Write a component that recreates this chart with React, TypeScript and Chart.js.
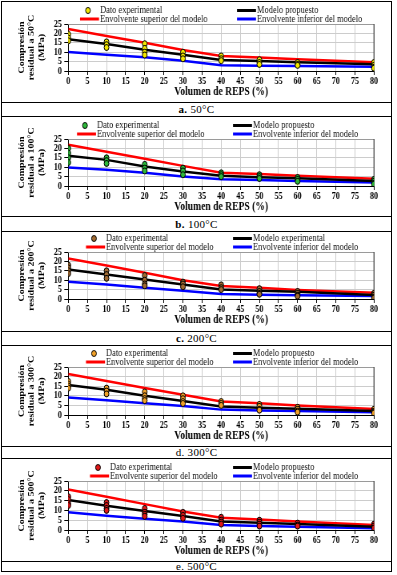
import React, { useEffect, useRef } from 'react';
import { Chart, registerables } from 'chart.js';

Chart.register(...registerables);

// ---------- data ----------
const X_STEPS = [0, 10, 20, 30, 40, 50, 60, 80];
const X_TICK_STEP = 5;
const Y_TICK_STEP = 5;

const EXP_50 = [[19.5, 17.5, 16], [15.5, 14, 12.5], [14.5, 12, 10, 8.5], [10, 8, 6.5], [8, 6.5, 5.5], [6, 4.5, 3.5], [4.5, 3.5, 3], [4.5, 3, 2, 1.5]];
const SUP_50 = [22.3, 18.6, 15, 11.2, 8, 7.2, 6.2, 4.6];
const MOD_50 = [16.9, 14.4, 11.3, 8.7, 5.9, 5.3, 4.6, 3.6];
const INF_50 = [10.1, 8.7, 7.3, 5.5, 3.0, 2.8, 2.7, 2.3];

const EXP_100 = [[20, 17.5, 15, 12.5], [15, 13.5, 12], [11.5, 9.5, 8], [9.5, 8, 6], [7, 6, 5], [6, 5, 4], [4.5, 3.5, 2.5], [3.5, 2.5, 1.5, 1]];
const SUP_100 = [22, 18.2, 14.5, 10.7, 7.1, 6.4, 5.5, 3.8];
const MOD_100 = [16.1, 13.9, 10.4, 7.7, 5.4, 4.6, 4.1, 2.7];
const INF_100 = [9.8, 8.6, 7.1, 5, 3.6, 3.2, 2.7, 1.8];

const EXP_200 = [[18, 16.5, 15, 13.5], [15, 13, 11], [12.5, 10, 8, 7], [9, 8, 6.5], [7.5, 6, 5], [5.5, 4, 3, 2.5], [4, 3, 2, 1.5], [3, 2, 1, 0.5]];
const SUP_200 = [21.5, 17.8, 14, 10, 6.9, 6, 4.8, 3.3];
const MOD_200 = [15.7, 13, 10.4, 7.7, 5.1, 4.4, 3.9, 2.1];
const INF_200 = [9.2, 7.7, 6, 4.4, 2.6, 2.3, 2.0, 1.6];

const EXP_300 = [[17.5, 16, 15, 14], [14, 12.5, 11], [12, 10, 8.5, 7.5], [10, 8.5, 7, 6], [7, 6, 5], [5.5, 4.5, 3, 2.5], [4, 3, 2, 1.5], [3, 2, 1.5, 1]];
const SUP_300 = [21.3, 17.7, 14.1, 10.5, 7, 6.1, 5, 3.1];
const MOD_300 = [15.6, 13.1, 10, 7.3, 4.4, 3.8, 3.3, 2.1];
const INF_300 = [9.1, 7.7, 6.1, 4.7, 2.8, 2.4, 2.1, 1.4];

const EXP_500 = [[17, 15.5, 13.5, 12.5], [14, 12.5, 11, 10], [11, 9, 8, 7], [9, 7.5, 6], [6.5, 5, 4, 3], [5, 4, 3, 2], [3.5, 2.5, 2], [3, 2, 1]];
const SUP_500 = [20.7, 17, 13.2, 9.4, 6.3, 5.3, 4.3, 2.6];
const MOD_500 = [15.3, 12.4, 9.7, 7.1, 4.3, 3.7, 3.1, 1.7];
const INF_500 = [9, 7.3, 5.8, 4.3, 2.6, 2.1, 1.7, 0.9];

const TEMPS = ['50°C', '100°C', '200°C', '300°C', '500°C'];
const LETTERS = ['a.', 'b.', 'c.', 'd.', 'e.'];
const MODEL_LABELS = ['Modelo propuesto', 'Modelo propuesto', 'Modelo experimental', 'Modelo propuesto', 'Modelo propuesto'];
const EXP_LABEL = 'Dato experimental';
const SUP_LABEL = 'Envolvente superior del modelo';
const INF_LABEL = 'Envolvente inferior del modelo';
const X_TITLE = 'Volumen de REPS (%)';

// ---------- layout / style ----------
const CW = 496;
const CH = 100;
const S = 397 / CW;
const SERIF = '"Liberation Serif", "Times New Roman", serif';
const PLOT_TOP = 22;
const X_AXIS_H = 27;
const PLOT_LEFT_SCREEN = 68.3;
const PLOT_RIGHT_SCREEN = 374;

type Panel = {
  exp: number[][]; sup: number[]; mod: number[]; inf: number[];
  color: string; canvasTop: number; plotH: number; legX1: number; legX2: number;
  letterBold: boolean;
};

const PANELS: Panel[] = [
  { exp: EXP_50, sup: SUP_50, mod: MOD_50, inf: INF_50, color: '#f2e600', canvasTop: 2, plotH: 47, legX1: 100, legX2: 257, letterBold: true },
  { exp: EXP_100, sup: SUP_100, mod: MOD_100, inf: INF_100, color: '#2db83a', canvasTop: 117, plotH: 47, legX1: 97, legX2: 253, letterBold: true },
  { exp: EXP_200, sup: SUP_200, mod: MOD_200, inf: INF_200, color: '#a06a32', canvasTop: 230, plotH: 47, legX1: 106, legX2: 253, letterBold: true },
  { exp: EXP_300, sup: SUP_300, mod: MOD_300, inf: INF_300, color: '#f0a028', canvasTop: 345, plotH: 48, legX1: 106, legX2: 253, letterBold: false },
  { exp: EXP_500, sup: SUP_500, mod: MOD_500, inf: INF_500, color: '#e01818', canvasTop: 459, plotH: 49, legX1: 110, legX2: 253, letterBold: false },
];

const H_LINES = [102, 116, 216, 231, 331, 345, 446, 458, 561];
const CAPTION_ROWS = [[102, 116], [216, 231], [331, 345], [446, 458], [561, 571]];

function ChartPanel({ p, idx }: { p: Panel; idx: number }) {
  const ref = useRef<HTMLCanvasElement | null>(null);
  useEffect(() => {
    if (!ref.current) return;
    const expPts: { x: number; y: number }[] = [];
    p.exp.forEach((ys, i) => ys.forEach((y) => expPts.push({ x: X_STEPS[i], y })));
    const line = (ys: number[]) => ys.map((y, i) => ({ x: X_STEPS[i], y }));
    const tickFont = { family: SERIF, size: 10, weight: 'bold' as const, lineHeight: 1 };

    const overlay = {
      id: 'overlay',
      beforeDatasetsDraw(chart: any) {
        const { ctx, chartArea } = chart;
        ctx.save();
        ctx.lineWidth = 1;
        ctx.strokeStyle = '#9a9a9a';
        ctx.beginPath();
        ctx.moveTo(chartArea.left, chartArea.top + 0.5);
        ctx.lineTo(chartArea.right, chartArea.top + 0.5);
        ctx.stroke();
        ctx.strokeStyle = '#444';
        ctx.lineWidth = 1.25;
        ctx.beginPath();
        ctx.moveTo(chartArea.right, chartArea.top);
        ctx.lineTo(chartArea.right, chartArea.bottom);
        ctx.stroke();
        ctx.restore();
      },
      afterDraw(chart: any) {
        const { ctx, chartArea } = chart;
        const r1 = chartArea.top - 13.5;
        const r2 = chartArea.top - 5;
        const t1 = p.legX1 / S;
        const t2 = p.legX2 / S;
        ctx.save();
        ctx.font = `10.5px ${SERIF}`;
        ctx.textBaseline = 'middle';
        ctx.textAlign = 'left';
        // marker
        ctx.beginPath();
        ctx.arc(t1 - 12 / S, r1, 3, 0, Math.PI * 2);
        ctx.fillStyle = p.color;
        ctx.fill();
        ctx.strokeStyle = '#000';
        ctx.lineWidth = 1;
        ctx.stroke();
        const seg = (x: number, y: number, c: string) => {
          ctx.beginPath();
          ctx.strokeStyle = c;
          ctx.lineWidth = 3;
          ctx.moveTo(x - 20 / S, y);
          ctx.lineTo(x - 1 / S, y);
          ctx.stroke();
        };
        seg(t2, r1, '#000');
        seg(t1, r2, '#ff0000');
        seg(t2, r2, '#0000ff');
        ctx.fillStyle = '#111';
        ctx.fillText(EXP_LABEL, t1, r1);
        ctx.fillText(MODEL_LABELS[idx], t2, r1);
        ctx.fillText(SUP_LABEL, t1, r2);
        ctx.fillText(INF_LABEL, t2, r2);
        ctx.restore();
      },
    };

    const chart = new Chart(ref.current, {
      type: 'scatter',
      data: {
        datasets: [
          { label: EXP_LABEL, data: expPts, backgroundColor: p.color, borderColor: '#000', borderWidth: 1, pointRadius: 3, showLine: false },
          { label: MODEL_LABELS[idx], data: line(p.mod), borderColor: '#000', backgroundColor: '#000', borderWidth: 2.5, pointRadius: 0, showLine: true },
          { label: SUP_LABEL, data: line(p.sup), borderColor: '#ff0000', backgroundColor: '#ff0000', borderWidth: 2.5, pointRadius: 0, showLine: true },
          { label: INF_LABEL, data: line(p.inf), borderColor: '#0000ff', backgroundColor: '#0000ff', borderWidth: 2.5, pointRadius: 0, showLine: true },
        ],
      },
      options: {
        animation: false,
        responsive: false,
        devicePixelRatio: 1,
        layout: {
          padding: {
            top: PLOT_TOP,
            left: 0,
            right: CW - PLOT_RIGHT_SCREEN / S,
            bottom: CH - PLOT_TOP - p.plotH - X_AXIS_H,
          },
        },
        plugins: { legend: { display: false }, tooltip: { enabled: false } },
        scales: {
          x: {
            type: 'linear',
            min: 0,
            max: 80,
            ticks: { stepSize: X_TICK_STEP, font: tickFont, color: '#000', padding: 1, maxRotation: 0, autoSkip: false },
            grid: { color: '#cccccc', tickColor: '#000', tickLength: 4, lineWidth: 1 },
            border: { color: '#000', width: 1 },
            title: { display: true, text: X_TITLE, color: '#000', padding: 0, font: { family: SERIF, size: 12, weight: 'bold', lineHeight: 1 } },
            afterFit: (s: any) => { s.height = X_AXIS_H; s.paddingLeft = 0; s.paddingRight = 0; },
          },
          y: {
            type: 'linear',
            min: 0,
            max: 25,
            ticks: { stepSize: Y_TICK_STEP, font: tickFont, color: '#000', padding: 3, autoSkip: false },
            grid: { color: '#cccccc', tickColor: '#000', tickLength: 5, lineWidth: 1 },
            border: { color: '#000', width: 1 },
            title: {
              display: true,
              text: ['Compresión', `residual a ${TEMPS[idx]}`, '(MPa)'],
              color: '#000',
              padding: { top: 21, bottom: 0 },
              font: { family: SERIF, size: 10, weight: 'bold', lineHeight: '12.5px' as any },
            },
            afterFit: (s: any) => { s.width = PLOT_LEFT_SCREEN / S; s.paddingTop = 0; s.paddingBottom = 0; },
          },
        },
      } as any,
      plugins: [overlay],
    });
    return () => chart.destroy();
  }, [p, idx]);

  return (
    <div
      style={{
        position: 'absolute',
        left: 0,
        top: p.canvasTop,
        width: CW,
        height: CH,
        transform: `scaleX(${S})`,
        transformOrigin: '0 0',
      }}
    >
      <canvas ref={ref} width={CW} height={CH} style={{ display: 'block', width: CW, height: CH }} />
    </div>
  );
}

export default function App() {
  return (
    <div style={{ position: 'relative', width: 397, height: 575, background: '#fff', fontFamily: SERIF, overflow: 'hidden' }}>
      <style>{'body{margin:0;background:#fff}'}</style>
      <div style={{ position: 'absolute', left: 1, top: 1, width: 391, height: 571, border: '1px solid #000', boxSizing: 'border-box' }} />
      {H_LINES.map((y) => (
        <div key={y} style={{ position: 'absolute', left: 1, top: y, width: 391, height: 1, background: '#000' }} />
      ))}
      {CAPTION_ROWS.map(([a, b], i) => (
        <div
          key={i}
          style={{
            position: 'absolute', left: 1, width: 391, top: a + 1, height: b - a - 1,
            display: 'flex', alignItems: 'center', justifyContent: 'center',
            fontSize: 11, color: '#000', lineHeight: 1, letterSpacing: 0.3,
          }}
        >
          <span style={{ fontWeight: PANELS[i].letterBold ? 'bold' : 'normal' }}>{LETTERS[i]}</span>
          <span>&nbsp;{TEMPS[i]}</span>
        </div>
      ))}
      {PANELS.map((p, i) => (
        <ChartPanel key={i} p={p} idx={i} />
      ))}
    </div>
  );
}
